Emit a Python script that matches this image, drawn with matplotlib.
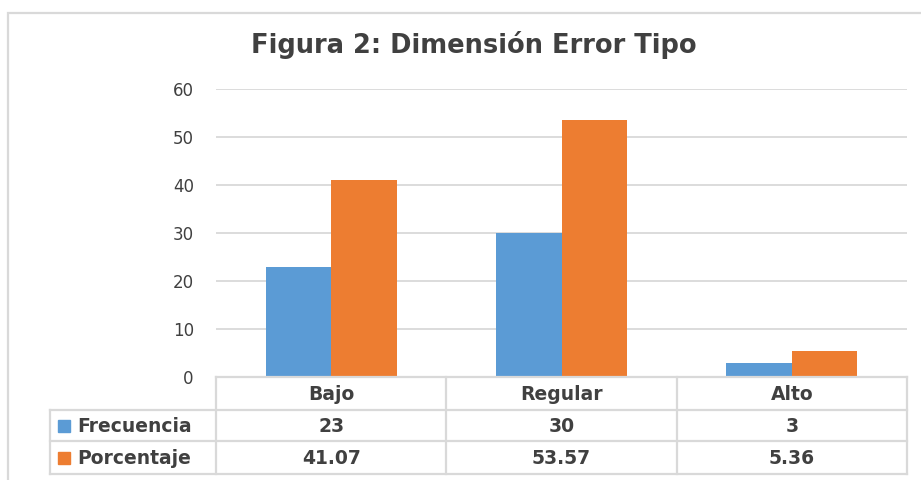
import matplotlib.pyplot as plt
import numpy as np
from matplotlib.patches import Rectangle

categories = ["Bajo", "Regular", "Alto"]
frecuencia = [23, 30, 3]
porcentaje = [41.07, 53.57, 5.36]
series_names = ["Frecuencia", "Porcentaje"]
porcentaje_labels = ["41.07", "53.57", "5.36"]

BLUE = "#5B9BD5"
ORANGE = "#ED7D31"
GRID = "#D9D9D9"
TXT = "#404040"

W, H = 921, 480
fig = plt.figure(figsize=(W / 100, H / 100), dpi=100)
plt.rcParams["font.family"] = ["DejaVu Sans"]


def fx(px):
    return px / W


def fy(py):
    return 1 - py / H


# plot area in pixels
left, right, top, base = 216, 907, 89, 377
ax = fig.add_axes([fx(left), fy(base), fx(right - left), (base - top) / H])

x = np.arange(len(categories))
bw = 0.284
ax.bar(x - bw / 2, frecuencia, bw, color=BLUE, zorder=3)
ax.bar(x + bw / 2, porcentaje, bw, color=ORANGE, zorder=3)
ax.set_xlim(-0.5, len(categories) - 0.5)
ax.set_ylim(0, 60)
ax.set_yticks(range(0, 61, 10))
ax.yaxis.grid(True, color=GRID, linewidth=1.3, zorder=0)
ax.set_xticks([])
for s in ax.spines.values():
    s.set_visible(False)
ax.tick_params(axis="y", length=0, pad=16, labelsize=12, labelcolor=TXT)

# outer chart frame
fig.patches.append(Rectangle((fx(8), fy(H + 10)), 1.0, fy(13) - fy(H + 10),
                             transform=fig.transFigure, fill=False,
                             edgecolor=GRID, linewidth=1.6))

fig.text(fx(474), fy(45), "Figura 2: Dimensión Error Tipo", ha="center", va="center",
         fontsize=18.5, fontweight="bold", color=TXT)

# data table under the axis
rows = [base, 410, 441, 474]
col_w = (right - left) / len(categories)
cols = [left + i * col_w for i in range(len(categories) + 1)]
label_left = 50
lw = 1.6


def hline(y, x0, x1):
    fig.add_artist(plt.Line2D([fx(x0), fx(x1)], [fy(y), fy(y)], color=GRID, lw=lw))


def vline(xp, y0, y1):
    fig.add_artist(plt.Line2D([fx(xp), fx(xp)], [fy(y0), fy(y1)], color=GRID, lw=lw))


hline(rows[0], left, right)
for r in rows[1:]:
    hline(r, label_left, right)
for c in cols:
    vline(c, rows[0], rows[-1])
vline(label_left, rows[1], rows[-1])

tkw = dict(ha="center", va="center", fontsize=13.5, fontweight="bold", color=TXT)
for i, cat in enumerate(categories):
    cx = cols[i] + col_w / 2
    fig.text(fx(cx), fy((rows[0] + rows[1]) / 2 + 1), cat, **tkw)
    fig.text(fx(cx), fy((rows[1] + rows[2]) / 2 + 1), str(frecuencia[i]), **tkw)
    fig.text(fx(cx), fy((rows[2] + rows[3]) / 2 + 1), porcentaje_labels[i], **tkw)

for j, (name, col) in enumerate(zip(series_names, [BLUE, ORANGE])):
    yc = (rows[j + 1] + rows[j + 2]) / 2
    fig.patches.append(Rectangle((fx(58), fy(yc + 6)), fx(12), 12 / H,
                                 transform=fig.transFigure, color=col))
    fig.text(fx(77), fy(yc + 1), name, ha="left", va="center", fontsize=13.5,
             fontweight="bold", color=TXT)

fig.savefig("out.png", dpi=100)
